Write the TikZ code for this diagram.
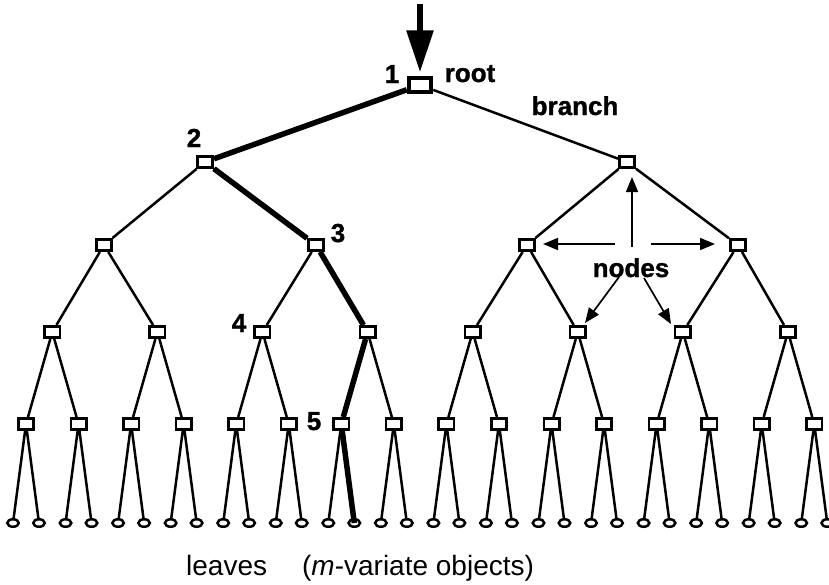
\documentclass[tikz,border=0pt]{standalone}
\usepackage{fontspec}
\setmainfont{Liberation Sans}
\newfontfamily\heavyfont[FakeBold=1.2]{Liberation Sans Bold}
\usetikzlibrary{arrows.meta,shapes.geometric}
\begin{document}
\begin{tikzpicture}[x=1pt,y=-1pt,
 box/.style={draw, rectangle, fill=white, line width=2.6pt, minimum width=15.4pt, minimum height=11.4pt, inner sep=0pt},
 rootbox/.style={box, line width=4pt, minimum width=22.5pt, minimum height=13.5pt},
 leaf/.style={draw, ellipse, fill=white, line width=2.5pt, minimum width=11.5pt, minimum height=7.5pt, inner sep=0pt},
 treeedge/.style={line width=2.5pt},
 pathedge/.style={line width=5.5pt},
 lab/.style={font=\heavyfont\fontsize{26}{30}\selectfont, inner sep=0pt, anchor=base},
 pointer/.style={line width=1.7pt, -{Triangle[length=15pt,width=12pt]}},
]
\useasboundingbox (0,0) rectangle (829,584);
% level 4 and leaves
\foreach \i in {0,...,15} {
  \node[box] (d\i) at ({26+52.55*\i},424) {};
  \node[leaf] (la\i) at ({13+52.55*\i},523) {};
  \node[leaf] (lb\i) at ({39+52.55*\i},523) {};
}
% level 3
\foreach \j in {0,...,7} {
  \node[box] (c\j) at ({26+52.55*(2*\j+0.5)},332) {};
}
% level 2
\foreach \x [count=\k from 0] in {104,316,527,738} {
  \node[box] (b\k) at (\x,245) {};
}
% level 1 and root
\node[box] (a0) at (205,162) {};
\node[box] (a1) at (627,162) {};
\node[rootbox] (r) at (420,85) {};
% edges
\foreach \i in {0,...,15} {
  \draw[treeedge] (d\i) -- (la\i) (d\i) -- (lb\i);
}
\foreach \j in {0,...,7} {
  \pgfmathtruncatemacro{\p}{2*\j}
  \pgfmathtruncatemacro{\q}{2*\j+1}
  \draw[treeedge] (c\j) -- (d\p) (c\j) -- (d\q);
}
\foreach \k in {0,...,3} {
  \pgfmathtruncatemacro{\p}{2*\k}
  \pgfmathtruncatemacro{\q}{2*\k+1}
  \draw[treeedge] (b\k) -- (c\p) (b\k) -- (c\q);
}
\draw[treeedge] (a0) -- (b0) (a0) -- (b1) (a1) -- (b2) (a1) -- (b3);
\draw[treeedge] (r) -- (a1);
% highlighted path
\draw[pathedge] (r) -- (a0);
\draw[pathedge] (a0) -- (b1);
\draw[pathedge] (b1) -- (c3);
\draw[pathedge] (c3) -- (d6);
\draw[pathedge] (d6) -- (lb6.center);
% input arrow
\coordinate (intop) at (420,4);
\draw[line width=6pt, -{Triangle[length=42pt,width=26pt]}, shorten >=4pt] (intop) -- (r.north);
% labels
\node[lab] (l1) at (392,83) {1};
\node[lab] (lroot) at (470,82) {root};
\node[lab] (lbranch) at (575,115) {branch};
\node[lab] (l2) at (194,147) {2};
\node[lab] (l3) at (338,242) {3};
\node[lab] (l4) at (239,332) {4};
\node[lab] (l5) at (314,430) {5};
\node[lab] (nodeslab) at (631,277) {nodes};
% pointer arrows
\coordinate (pu0) at (632,247); \coordinate (pu1) at (632,177);
\coordinate (pl0) at (615,244); \coordinate (pl1) at (543,244);
\coordinate (pr0) at (651,244); \coordinate (pr1) at (715,244);
\coordinate (pdl0) at (619,277); \coordinate (pdl1) at (585,323);
\coordinate (pdr0) at (644,278); \coordinate (pdr1) at (671,324);
\draw[pointer] (pu0) -- (pu1);
\draw[pointer] (pl0) -- (pl1);
\draw[pointer] (pr0) -- (pr1);
\draw[pointer] (pdl0) -- (pdl1);
\draw[pointer] (pdr0) -- (pdr1);
% bottom caption
\node[font=\fontsize{28}{32}\selectfont, anchor=base west, inner sep=0pt] (leaveslab) at (186,575) {leaves\hspace{35pt}(\textit{m}-variate objects)};
\end{tikzpicture}
\end{document}
